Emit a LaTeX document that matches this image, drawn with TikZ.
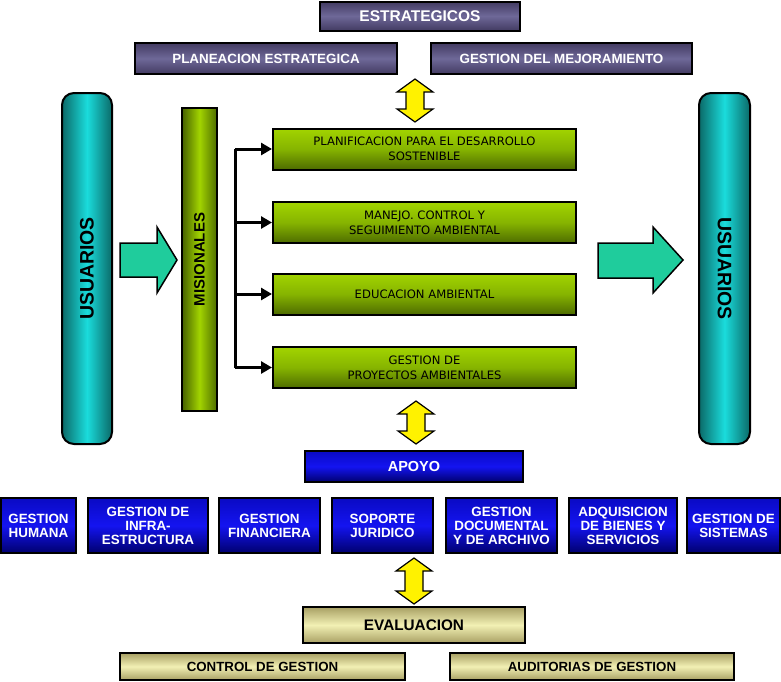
\documentclass[tikz,border=0pt]{standalone}
\usepackage{fontspec}
\setmainfont{Liberation Sans}
\newfontfamily\procfont{DejaVu Sans}
\usetikzlibrary{arrows.meta}
\definecolor{prpdark}{HTML}{433B62}
\definecolor{prplight}{HTML}{6E6898}
\definecolor{tealdark}{HTML}{0B6A68}
\definecolor{tealmid}{HTML}{1ADCDC}
\definecolor{grndark}{HTML}{4E6C00}
\definecolor{grnlight}{HTML}{A2D400}
\definecolor{grnmid}{HTML}{86B400}
\definecolor{bluedark}{HTML}{00006E}
\definecolor{bluetop}{HTML}{0A0AC4}
\definecolor{bluelight}{HTML}{1414F0}
\definecolor{khkdark}{HTML}{A8A064}
\definecolor{khklight}{HTML}{F2F0B4}
\definecolor{aqua}{HTML}{1FCC9C}
\tikzset{
  box/.style={draw=black,line width=2pt,inner sep=1pt,align=center},
  pbox/.style={box,top color=prpdark,bottom color=prpdark,middle color=prplight,text=white,
    font=\bfseries\fontsize{13.4}{15}\selectfont},
  ubox/.style={box,rounded corners=12pt,left color=tealdark,right color=tealdark,middle color=tealmid,
    font=\bfseries\fontsize{19.5}{22}\selectfont},
  gbox/.style={box,top color=grnlight,bottom color=grndark,middle color=grnmid,
    minimum width=303pt,minimum height=41pt,font=\procfont\fontsize{11.6}{15}\selectfont},
  bbox/.style={box,top color=bluetop,bottom color=bluedark,middle color=bluelight,text=white,
    minimum height=55pt,font=\bfseries\fontsize{13.4}{14}\selectfont},
  kbox/.style={box,top color=khkdark,bottom color=khkdark,middle color=khklight,
    font=\bfseries\fontsize{13.3}{15}\selectfont},
  yarr/.style={draw=black,line width=1.2pt,fill=yellow,line join=miter},
  tarr/.style={draw=black,line width=1.5pt,fill=aqua},
  brk/.style={draw=black,line width=3pt},
  brarr/.style={brk,-{Triangle[length=11pt,width=12pt]}},
}
\begin{document}
\begin{tikzpicture}[x=1pt,y=-1pt]
\useasboundingbox (0,0) rectangle (781,681);
% estrategicos
\node[pbox,minimum width=200pt,minimum height=29pt,font=\bfseries\fontsize{15.5}{17}\selectfont] (estr) at (420,16) {ESTRATEGICOS};
\node[pbox,minimum width=262pt,minimum height=31pt] (plan) at (266,58.5) {PLANEACION ESTRATEGICA};
\node[pbox,minimum width=261pt,minimum height=31pt] (mejor) at (561.5,58.5) {GESTION DEL MEJORAMIENTO};
% usuarios
\node[ubox,minimum width=50pt,minimum height=351pt] (usuL) at (87,268.5) {};
\node[rotate=90,font=\bfseries\fontsize{19.5}{22}\selectfont] at (usuL) {USUARIOS};
\node[ubox,minimum width=51pt,minimum height=351pt] (usuR) at (724.5,268.5) {};
\node[rotate=-90,font=\bfseries\fontsize{19.5}{22}\selectfont] at (usuR) {USUARIOS};
% misionales
\node[box,left color=grndark!90!black,right color=grndark,middle color=grnlight,minimum width=35pt,minimum height=303pt] (mis) at (199.5,259.5) {};
\node[rotate=90,font=\bfseries\fontsize{15}{17}\selectfont] at (mis) {MISIONALES};
\node[gbox] (g1) at (424.5,149) {PLANIFICACION PARA EL DESARROLLO\\SOSTENIBLE};
\node[gbox] (g2) at (424.5,222.5) {MANEJO. CONTROL Y\\SEGUIMIENTO AMBIENTAL};
\node[gbox] (g3) at (424.5,294) {EDUCACION AMBIENTAL};
\node[gbox] (g4) at (424.5,367.5) {GESTION DE\\PROYECTOS AMBIENTALES};
\coordinate (bus) at (235,0);
\draw[brk] (bus |- g1.west) -- (bus |- g4.west);
\foreach \g in {g1,g2,g3,g4}
  \draw[brarr] (bus |- \g.west) -- (\g.west);
% block arrows
\draw[tarr] (120,243) -- (157,243) -- (157,227) -- (177,260) -- (157,293) -- (157,277) -- (120,277) -- cycle;
\draw[tarr] (598,243) -- (653,243) -- (653,227) -- (683,260) -- (653,293) -- (653,278) -- (598,278) -- cycle;
% apoyo
\node[bbox,minimum width=218pt,minimum height=31pt,font=\bfseries\fontsize{14.5}{16}\selectfont] (apoyo) at (414,466.5) {APOYO};
\node[bbox,minimum width=75pt] (b1) at (38.5,525.5) {GESTION\\HUMANA};
\node[bbox,minimum width=120pt] (b2) at (148,525.5) {GESTION DE\\INFRA-\\ESTRUCTURA};
\node[bbox,minimum width=101pt] (b3) at (269.5,525.5) {GESTION\\FINANCIERA};
\node[bbox,minimum width=101pt] (b4) at (382.5,525.5) {SOPORTE\\JURIDICO};
\node[bbox,minimum width=111pt] (b5) at (501.5,525.5) {GESTION\\DOCUMENTAL\\Y DE ARCHIVO};
\node[bbox,minimum width=108pt] (b6) at (623,525.5) {ADQUISICION\\DE BIENES Y\\SERVICIOS};
\node[bbox,minimum width=93pt] (b7) at (733.5,525.5) {GESTION DE\\SISTEMAS};
% evaluacion
\node[kbox,minimum width=222pt,minimum height=36pt,font=\bfseries\fontsize{15.3}{17}\selectfont] (eval) at (414,625) {EVALUACION};
\node[kbox,minimum width=285pt,minimum height=27pt] (ctrl) at (262.5,666.5) {CONTROL DE GESTION};
\node[kbox,minimum width=284pt,minimum height=27pt] (audit) at (592,666.5) {AUDITORIAS DE GESTION};
% yellow double arrows
\foreach \cx/\ty/\by in {415/79/122,416/401/444,414/558/604}
  \draw[yarr] (\cx,\ty) -- (\cx+18,\ty+13) -- (\cx+9,\ty+13) -- (\cx+9,\by-13) -- (\cx+18,\by-13)
    -- (\cx,\by) -- (\cx-18,\by-13) -- (\cx-9,\by-13) -- (\cx-9,\ty+13) -- (\cx-18,\ty+13) -- cycle;
\end{tikzpicture}
\end{document}
